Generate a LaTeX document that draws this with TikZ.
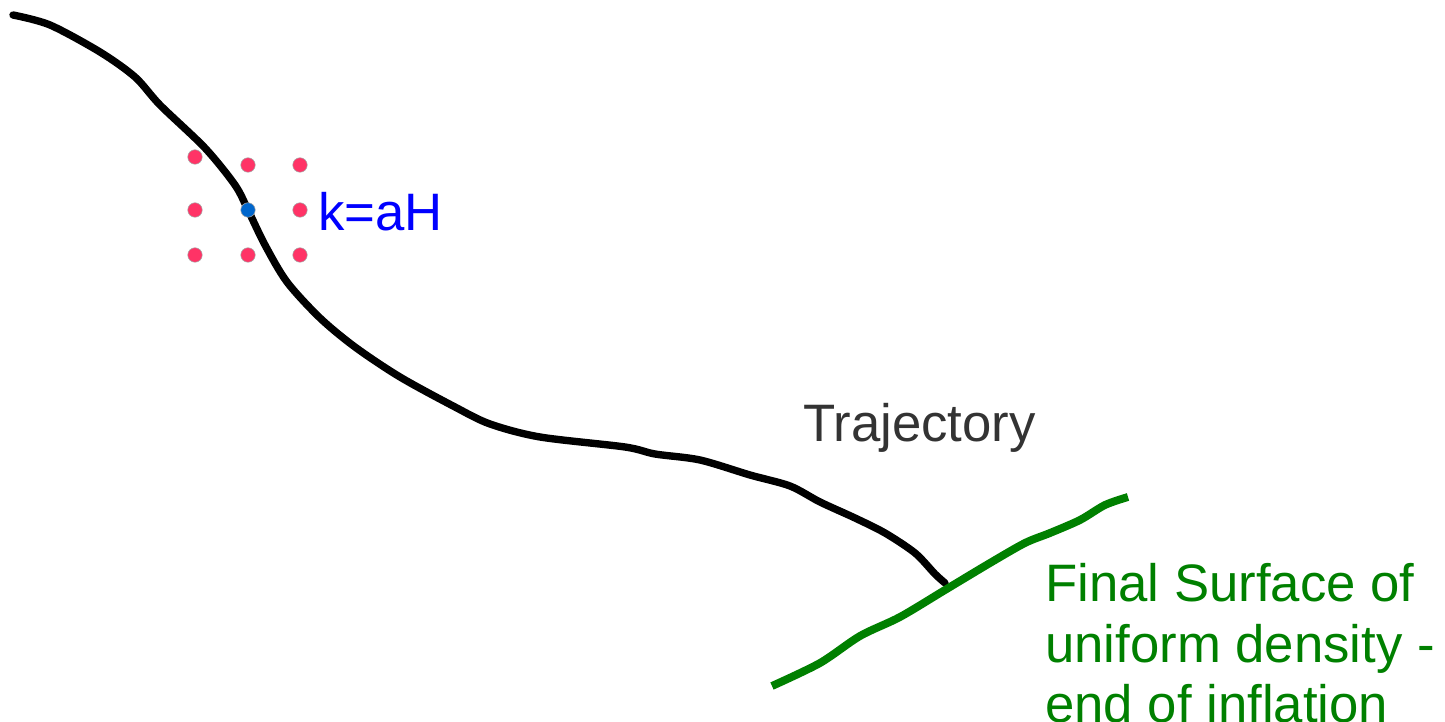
\documentclass[tikz,border=0pt]{standalone}
\usepackage{fontspec}
\setmainfont{Liberation Sans}
\usepackage{tikz}
\usetikzlibrary{positioning}

\definecolor{dotred}{HTML}{FF3366}
\definecolor{dotblue}{HTML}{0066CC}
\definecolor{surfgreen}{HTML}{008000}
\definecolor{txtgray}{HTML}{333333}

\begin{document}
\begin{tikzpicture}[x=0.02cm,y=-0.02cm]
    \tikzset{grid/.style={circle, fill=dotred, draw=gray!70, line width=0.3pt, minimum size=0.29cm, inner sep=0pt},
    mode/.style={circle, fill=dotblue, draw=gray!70, line width=0.3pt, minimum size=0.29cm, inner sep=0pt},
    label/.style={anchor=base west, inner sep=0pt, font=\fontsize{30}{34.6}\selectfont, align=left},
    }
    \useasboundingbox (0,0) rectangle (1445,722);
    % trajectory
    \draw[line width=4.2pt, line cap=round] plot[smooth, tension=0.5] coordinates {
        (13,15) (50,25) (100,52) (135,77) (160,105) (205,148) (235,185) (248,210)
        (265,245) (287,282) (320,318) (355,347) (400,377) (455,407) (490,424)
        (540,437) (625,447) (655,454) (700,460) (750,475) (790,486) (820,502)
        (855,518) (885,533) (915,553) (935,574) (945,583)};
    % surface
    \draw[surfgreen, line width=4.5pt] plot[smooth, tension=0.5] coordinates {
        (772,686) (820,663) (860,636) (900,617) (945,590) (990,563) (1025,543)
        (1050,533) (1080,520) (1105,505) (1128,497)};
    % dots round the crossing point
    \node [mode] (k) at (248,210) {};
    \node [grid] (nw) at (195,157) {};
    \node [grid] (n) at (248,165) {};
    \node [grid] (ne) at (300,165) {};
    \node [grid] (w) at (195,210) {};
    \node [grid] (e) at (300,210) {};
    \node [grid] (sw) at (195,255) {};
    \node [grid] (s) at (248,255) {};
    \node [grid] (se) at (300,255) {};
    % labels (base of a multi-line node is its last line)
    \node [label, text=blue] (kah) at (318,231) {k=aH};
    \node [label, text=txtgray] (traj) at (803,442) {Trajectory};
    \node [label, text=surfgreen] (surf) at (1045,723) {Final Surface of\\uniform density -\\end of inflation};
\end{tikzpicture}
\end{document}
